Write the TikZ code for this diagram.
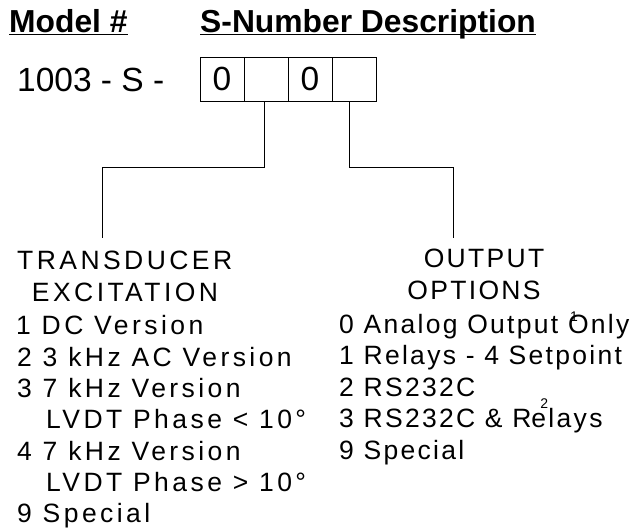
\documentclass[tikz,border=0pt]{standalone}
\usepackage{fontspec}
\setmainfont{Liberation Sans}
\newfontfamily\leftfont[LetterSpace=13]{Liberation Sans}
\newfontfamily\rightfont[LetterSpace=8.7]{Liberation Sans}
\usetikzlibrary{positioning}

\tikzset{
  head/.style={anchor=base west, inner sep=0pt, font=\fontsize{31.8}{36}\selectfont\bfseries},
  model/.style={anchor=base west, inner sep=0pt, font=\fontsize{33.5}{38}\selectfont},
  digit/.style={draw, line width=0.9pt, minimum width=44pt, minimum height=44pt,
    inner sep=0pt, font=\fontsize{33.5}{38}\selectfont},
  litem/.style={anchor=base west, inner sep=0pt, font=\leftfont\fontsize{26.5}{31}\selectfont},
  ritem/.style={anchor=base west, inner sep=0pt, font=\rightfont\fontsize{26.5}{31}\selectfont},
  leg/.style={line width=0.8pt}
}
\newcommand{\headline}[1]{\underline{\smash{#1}}}
\newcommand{\notemark}[3]{\rlap{\kern#1\raisebox{#2}{\fontsize{14}{14}\selectfont #3}}}

\begin{document}
\begin{tikzpicture}[x=1pt, y=-1pt]
  \useasboundingbox (0,0) rectangle (641,529);
  % heading
  \node[head] (modelhead) at (9,33) {\headline{Model \#}};
  \node[head] (snumhead) at (200,33) {\headline{S-Number Description}};
  % model number and S-number boxes
  \node[model] (modelno) at (17,92) {1003 - S -};
  \node[digit] (dig1) at (222,79) {0};
  \node[digit] (dig2) at (266,79) {};
  \node[digit] (dig3) at (310,79) {0};
  \node[digit] (dig4) at (354,79) {};
  % legs to the two option lists
  \coordinate (tknee) at (102,167);
  \coordinate (ttip) at (102,238);
  \coordinate (oknee) at (453,167);
  \coordinate (otip) at (453,238);
  \draw[leg] ([xshift=-2pt]dig2.south) |- (tknee) -- (ttip);
  \draw[leg] ([xshift=-5pt]dig4.south) |- (oknee) -- (otip);
  % transducer excitation
  \node[litem] (trans) at (17,270) {TRANSDUCER};
  \node[litem, anchor=base] (excit) at (125,301.5) {EXCITATION};
  \node[litem] (ex1) at (16,335) {1 DC Version};
  \node[litem] (ex2) at (17,366.3) {2 3 kHz AC Version};
  \node[litem] (ex3) at (17,397.6) {3 7 kHz Version};
  \node[litem] (ex3b) at (46,428.9) {LVDT Phase < 10°};
  \node[litem] (ex4) at (17,460.2) {4 7 kHz Version};
  \node[litem] (ex4b) at (46,491.5) {LVDT Phase > 10°};
  \node[litem] (ex9) at (17,522.8) {9 Special};
  % output options
  \node[ritem, anchor=base] (outp) at (484,268) {OUTPUT};
  \node[ritem, anchor=base] (opts) at (474,300) {OPTIONS};
  \node[ritem] (op0) at (339,333.5) {0 Analog Output \notemark{2pt}{12pt}{1}Only};
  \node[ritem] (op1) at (339,365) {1 Relays - 4 Setpoint};
  \node[ritem] (op2) at (339,396.5) {2 RS232C};
  \node[ritem] (op3) at (339,428) {3 RS232C \& R\notemark{9pt}{19pt}{2}elays};
  \node[ritem] (op9) at (339,459.5) {9 Special};
\end{tikzpicture}
\end{document}
